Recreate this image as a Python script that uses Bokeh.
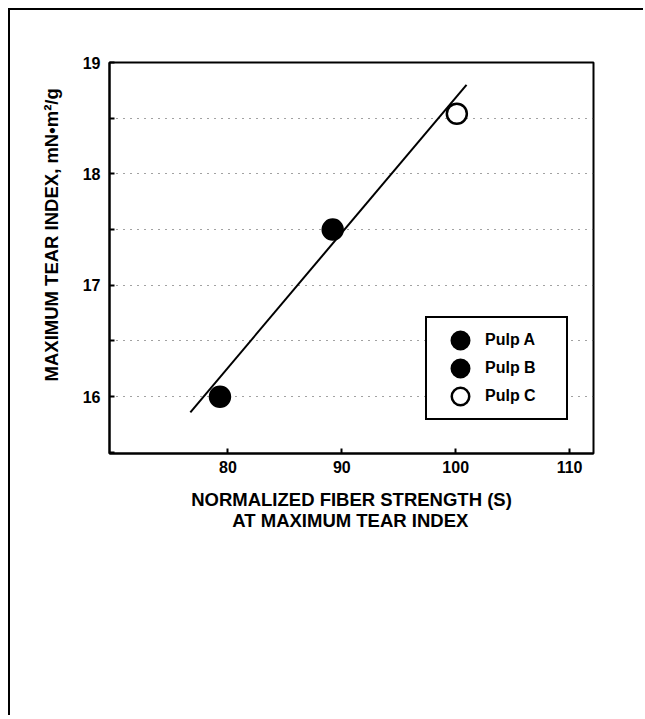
from bokeh.plotting import figure
from bokeh.models import FixedTicker, Legend, LegendItem, Title
from bokeh.embed import file_html
from bokeh.resources import INLINE

# ---- data ----
pulp_names = ["Pulp A", "Pulp B", "Pulp C"]
fiber_strength = [79.3, 89.2, 100.1]      # normalized fiber strength (S)
tear_index = [16.0, 17.5, 18.54]          # maximum tear index, mN·m²/g
pulp_fill = ["black", "black", "white"]

fit_x = [76.7, 100.95]                    # regression line end points
fit_y = [15.86, 18.8]

x_ticks = [80, 90, 100, 110]
y_ticks = [16, 17, 18, 19]
y_minor = [15.5, 16.5, 17.5, 18.5]
y_grid = [16, 16.5, 17, 17.5, 18, 18.5]

FONT = "Liberation Sans"
NAN = float("nan")
NBSP = "\u00a0"

p = figure(frame_width=484, frame_height=391,
           x_range=(69.6, 112.1), y_range=(15.49, 19.0),
           output_backend="svg", toolbar_location=None,
           min_border_left=99, min_border_top=52,
           min_border_right=50, min_border_bottom=262)
p.styles = {"margin-left": "8px", "margin-top": "8px",
            "border-left": "2px solid black", "border-top": "2px solid black"}

p.outline_line_color = "black"
p.outline_line_width = 2
p.outline_line_alpha = 1
p.background_fill_color = "white"
p.border_fill_color = "white"

# axes
p.xaxis.ticker = FixedTicker(ticks=x_ticks)
p.yaxis.ticker = FixedTicker(ticks=y_ticks, minor_ticks=y_minor)
for ax in (p.xaxis[0], p.yaxis[0]):
    ax.axis_line_width = 2
    ax.axis_line_color = "black"
    ax.major_tick_in = 5
    ax.major_tick_out = 0
    ax.major_tick_line_width = 2
    ax.minor_tick_in = 5
    ax.minor_tick_out = 0
    ax.minor_tick_line_width = 2
    ax.major_label_text_font = FONT
    ax.major_label_text_font_style = "bold"
    ax.major_label_text_font_size = "16px"
    ax.major_label_text_color = "black"
p.xaxis.minor_tick_in = 0
p.xaxis.major_label_standoff = 7
p.yaxis.major_label_standoff = 9

p.yaxis.axis_label = NBSP * 9 + "MAXIMUM TEAR INDEX, mN\u2022m\u00b2/g"
p.yaxis.axis_label_text_font = FONT
p.yaxis.axis_label_text_font_style = "bold"
p.yaxis.axis_label_text_font_size = "18.5px"
p.yaxis.axis_label_text_color = "black"
p.yaxis.axis_label_standoff = 18

# grids
p.xgrid.visible = False
p.ygrid.ticker = FixedTicker(ticks=y_grid)
p.ygrid.grid_line_color = "#444444"
p.ygrid.grid_line_width = 1
p.ygrid.grid_line_dash = "1 6"

# regression line
p.line(fit_x, fit_y, line_color="black", line_width=2)

# points
for name, xv, yv, fc in zip(pulp_names, fiber_strength, tear_index, pulp_fill):
    p.scatter([xv], [yv], size=20, marker="circle", fill_color=fc,
              line_color="black", line_width=2.5)

# legend key glyphs (renderers without visible data, only used for the legend keys)
key_a = p.scatter(x=[NAN], y=[NAN], marker="circle", fill_color="black",
                  line_color="black", line_width=8.8)
key_b = p.scatter(x=[NAN], y=[NAN], marker="circle", fill_color="black",
                  line_color="black", line_width=8.8)
key_c1 = p.scatter(x=[NAN], y=[NAN], marker="circle", fill_color="black",
                   line_color="black", line_width=8.8)
key_c2 = p.scatter(x=[NAN], y=[NAN], marker="circle", fill_color="white",
                   line_color="white", line_width=3.8)

leg = Legend(items=[LegendItem(label=pulp_names[0], renderers=[key_a]),
                    LegendItem(label=pulp_names[1], renderers=[key_b]),
                    LegendItem(label=pulp_names[2], renderers=[key_c1, key_c2])])
leg.location = (316, 33)
leg.border_line_color = "black"
leg.border_line_width = 2
leg.border_line_alpha = 1
leg.background_fill_color = "white"
leg.background_fill_alpha = 1
leg.padding = 8
leg.margin = 0
leg.glyph_width = 50
leg.glyph_height = 28
leg.label_height = 28
leg.label_width = 73
leg.spacing = 0
leg.label_standoff = 0
leg.label_text_font = FONT
leg.label_text_font_style = "bold"
leg.label_text_font_size = "16px"
leg.label_text_color = "black"
leg.label_text_baseline = "middle"
p.add_layout(leg)

# x axis title (two lines, second line centred under the first)
t1 = Title(text="NORMALIZED FIBER STRENGTH (S)\n" + NBSP * 8 + "AT MAXIMUM TEAR INDEX",
           align="center", text_font=FONT, text_font_style="bold",
           text_font_size="18.5px", text_color="black", standoff=22)
p.add_layout(t1, "below")

open("out.html", "w").write(file_html(p, INLINE))
